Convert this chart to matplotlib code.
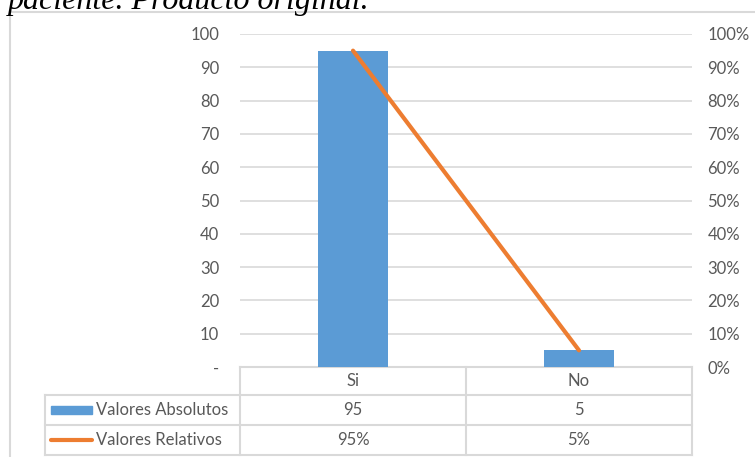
import matplotlib.pyplot as plt
from matplotlib.lines import Line2D
from matplotlib.patches import Rectangle

# Respuestas del paciente
categorias = ["Si", "No"]
valores_absolutos = [95, 5]
valores_relativos = [0.95, 0.05]
etiquetas_absolutos = ["95", "5"]
etiquetas_relativos = ["95%", "5%"]

azul = "#5B9BD5"
naranja = "#ED7D31"
gris_texto = "#595959"
gris_linea = "#D9D9D9"

plt.rcParams["font.family"] = ["Lato", "DejaVu Sans"]

W, H = 755, 457
fig = plt.figure(figsize=(W / 100, H / 100), dpi=100)


def fx(px):
    return px / W


def fy(py):
    return 1 - py / H


# Marco exterior del grafico
fig.add_artist(Line2D([fx(10), fx(10)], [fy(12), fy(470)], color=gris_linea, lw=1.5))
fig.add_artist(Line2D([fx(10), fx(770)], [fy(12), fy(12)], color=gris_linea, lw=1.5))

# Pie de titulo cortado arriba
fig.text(fx(8), fy(9), "paciente. Producto original.", fontsize=23,
         family="Liberation Serif", style="italic", color="black", va="baseline")

left, right, top, bottom = 240, 692, 34, 367
ax = fig.add_axes([fx(left), fy(bottom), fx(right - left), (bottom - top) / H])
x = list(range(len(categorias)))

ax.bar(x, valores_absolutos, width=0.31, color=azul, zorder=3)
ax.set_xlim(-0.5, 1.5)
ax.set_ylim(0, 100)
ax.set_yticks(range(0, 101, 10))
ax.set_yticklabels(["-"] + [str(v) for v in range(10, 101, 10)])
ax.yaxis.grid(True, color=gris_linea, lw=1.2, zorder=0)
ax.set_xticks([])
for s in ax.spines.values():
    s.set_visible(False)
ax.tick_params(axis="y", length=0, pad=15, labelsize=12, labelcolor=gris_texto)

ax2 = ax.twinx()
ax2.plot(x, valores_relativos, color=naranja, lw=3, solid_capstyle="round", zorder=4)
ax2.set_ylim(0, 1)
ax2.set_yticks([i / 10 for i in range(11)])
ax2.set_yticklabels([f"{i * 10}%" for i in range(11)])
for s in ax2.spines.values():
    s.set_visible(False)
ax2.tick_params(axis="y", length=0, pad=11, labelsize=12, labelcolor=gris_texto)

# Tabla de datos bajo el eje
alto = bottom - top


def ty(py):
    return (bottom - py) / alto


trans = ax.get_xaxis_transform()
x_izq = -0.5 - 195 / 226
filas = [367, 395, 425, 455]

ax.add_line(Line2D([-0.5, 1.5], [ty(367)] * 2, transform=trans, color=gris_linea, lw=1.5, clip_on=False))
for py in filas[1:]:
    ax.add_line(Line2D([x_izq, 1.5], [ty(py)] * 2, transform=trans, color=gris_linea, lw=1.5, clip_on=False))
for xv in [-0.5, 0.5, 1.5]:
    ax.add_line(Line2D([xv, xv], [ty(367), ty(455)], transform=trans, color=gris_linea, lw=1.5, clip_on=False))
ax.add_line(Line2D([x_izq, x_izq], [ty(395), ty(455)], transform=trans, color=gris_linea, lw=1.5, clip_on=False))

centros = [ty((filas[i] + filas[i + 1]) / 2) for i in range(3)]
for i, cat in enumerate(categorias):
    ax.text(i, centros[0], cat, transform=trans, ha="center", va="center", fontsize=12, color=gris_texto)
    ax.text(i, centros[1], etiquetas_absolutos[i], transform=trans, ha="center", va="center", fontsize=12, color=gris_texto)
    ax.text(i, centros[2], etiquetas_relativos[i], transform=trans, ha="center", va="center", fontsize=12, color=gris_texto)

# Claves de leyenda en la columna de etiquetas
ax.add_patch(Rectangle((x_izq + 6 / 226, centros[1] - 4 / alto), 41 / 226, 8 / alto,
                       transform=trans, color=azul, clip_on=False))
ax.add_line(Line2D([x_izq + 6 / 226, x_izq + 47 / 226], [centros[2]] * 2, transform=trans,
                   color=naranja, lw=3, solid_capstyle="round", clip_on=False))
ax.text(x_izq + 51 / 226, centros[1], "Valores Absolutos", transform=trans, ha="left", va="center",
        fontsize=12, color=gris_texto)
ax.text(x_izq + 51 / 226, centros[2], "Valores Relativos", transform=trans, ha="left", va="center",
        fontsize=12, color=gris_texto)

fig.savefig("out.png", dpi=100)
